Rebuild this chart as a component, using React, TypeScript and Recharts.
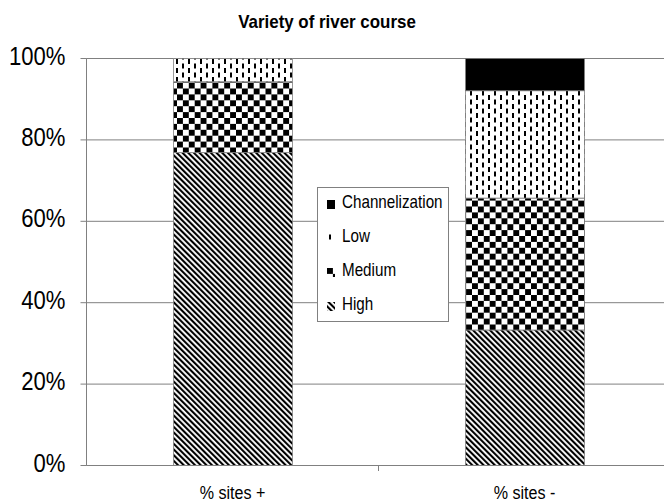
import React from 'react';
import {
  BarChart,
  Bar,
  XAxis,
  YAxis,
  CartesianGrid,
  Legend
} from 'recharts';

const categories = ['% sites +', '% sites -'];
const high = [76.9, 33.3];
const medium = [17.4, 32.4];
const low = [5.7, 26.4];
const channelization = [0, 7.9];
const yTicks = [0, 20, 40, 60, 80, 100];
// legend lists the stack top-down
const legendOrder = ['Channelization', 'Low', 'Medium', 'High'];

const FONT = '"Liberation Sans", Arial, sans-serif';
const GRAY = '#808080';

// plot geometry, used for the category boundary tick
const CHART_W = 680;
const PLOT_LEFT = 86.5;
const PLOT_RIGHT_MARGIN = 9.5;
const BAND = (CHART_W - PLOT_LEFT - PLOT_RIGHT_MARGIN) / categories.length;

const data = categories.map((name, i) => ({
  name,
  high: high[i],
  medium: medium[i],
  low: low[i],
  channelization: channelization[i]
}));

function Patterns() {
  return (
    <defs>
      <pattern id="pat-high" width={4} height={4} patternUnits="userSpaceOnUse" patternTransform="rotate(-45)">
        <rect x={0} y={0} width={4} height={4} fill="#fff" />
        <rect x={0} y={0} width={2.1} height={4} fill="#000" />
      </pattern>
      <pattern id="pat-medium" width={11.8} height={11.8} patternUnits="userSpaceOnUse">
        <rect x={0} y={0} width={11.8} height={11.8} fill="#fff" />
        <rect x={0} y={0} width={5.9} height={5.9} fill="#000" />
        <rect x={5.9} y={5.9} width={5.9} height={5.9} fill="#000" />
      </pattern>
      <pattern id="pat-low" width={12} height={9} patternUnits="userSpaceOnUse">
        <rect x={0} y={0} width={12} height={9} fill="#fff" />
        <rect x={2} y={0.5} width={2} height={5} fill="#000" />
        <rect x={8} y={5} width={2} height={5} fill="#000" />
        <rect x={8} y={-4} width={2} height={5} fill="#000" />
      </pattern>
    </defs>
  );
}

function YTick({ x, y, payload }: any) {
  return (
    <g transform={`translate(${x},${y})`}>
      <text x={0} y={0} dy={6} textAnchor="end" fontSize={26} fontFamily={FONT} fill="#000" transform="scale(0.85,1)">
        {`${payload.value}%`}
      </text>
    </g>
  );
}

function XTick({ x, y, payload, index }: any) {
  return (
    <g transform={`translate(${x},${y})`}>
      {index > 0 && <line x1={-BAND / 2} y1={0} x2={-BAND / 2} y2={5.5} stroke={GRAY} />}
      <text x={0} y={0} dy={33.5} textAnchor="middle" fontSize={18.5} fontFamily={FONT} fill="#000" transform="scale(0.87,1)">
        {payload.value}
      </text>
    </g>
  );
}

function LegendBox({ payload }: any) {
  const items = [...(payload ?? [])].sort(
    (a: any, b: any) => legendOrder.indexOf(a.value) - legendOrder.indexOf(b.value)
  );
  return (
    <div
      style={{
        width: '100%',
        height: '100%',
        boxSizing: 'border-box',
        border: `1px solid ${GRAY}`,
        background: '#fff',
        position: 'relative',
        fontFamily: FONT
      }}
    >
      {items.map((entry: any, i: number) => (
        <div key={entry.value} style={{ position: 'absolute', left: 0, top: 2 + i * 34, height: 24, width: '100%' }}>
          <svg width={8} height={9} style={{ position: 'absolute', left: 9, top: 10 }}>
            <rect x={0} y={0} width={8} height={9} fill={entry.color} />
          </svg>
          <span
            style={{
              position: 'absolute',
              left: 24,
              top: 0,
              lineHeight: '24px',
              fontSize: 19,
              whiteSpace: 'nowrap',
              transform: 'scaleX(0.8)',
              transformOrigin: 'left center',
              color: '#000'
            }}
          >
            {entry.value}
          </span>
        </div>
      ))}
    </div>
  );
}

export default function App() {
  return (
    <div style={{ position: 'fixed', left: 0, top: 0, width: 664, height: 502, overflow: 'hidden', background: '#fff' }}>
      <svg width={664} height={40} style={{ position: 'absolute', left: 0, top: 0, zIndex: 2 }}>
        <text x={0} y={0} transform="translate(327,28) scale(0.94,1)" textAnchor="middle" fontSize={18} fontWeight="bold" fontFamily={FONT} fill="#000">
          Variety of river course
        </text>
      </svg>
      <BarChart
        width={CHART_W}
        height={502}
        data={data}
        margin={{ top: 58.5, right: PLOT_RIGHT_MARGIN, left: 0, bottom: 0 }}
        barSize={119}
      >
        <Patterns />
        <CartesianGrid horizontal vertical={false} stroke={GRAY} />
        <XAxis
          dataKey="name"
          height={36.5}
          axisLine={{ stroke: GRAY }}
          tickLine={false}
          tickSize={0}
          tickMargin={0}
          tick={<XTick />}
          interval={0}
        />
        <YAxis
          width={PLOT_LEFT}
          domain={[0, 100]}
          ticks={yTicks}
          axisLine={{ stroke: GRAY }}
          tickLine={{ stroke: GRAY }}
          tickSize={6}
          tickMargin={15}
          tick={<YTick />}
        />
        <Legend
          layout="vertical"
          align="center"
          verticalAlign="middle"
          content={<LegendBox />}
          wrapperStyle={{ left: 317, top: 187, width: 132, height: 135 }}
        />
        <Bar dataKey="high" name="High" stackId="s" fill="url(#pat-high)" stroke={GRAY} strokeWidth={0.8} isAnimationActive={false} />
        <Bar dataKey="medium" name="Medium" stackId="s" fill="url(#pat-medium)" stroke={GRAY} strokeWidth={0.8} isAnimationActive={false} />
        <Bar dataKey="low" name="Low" stackId="s" fill="url(#pat-low)" stroke={GRAY} strokeWidth={0.8} isAnimationActive={false} />
        <Bar dataKey="channelization" name="Channelization" stackId="s" fill="#000" stroke={GRAY} strokeWidth={0.8} isAnimationActive={false} />
      </BarChart>
    </div>
  );
}
